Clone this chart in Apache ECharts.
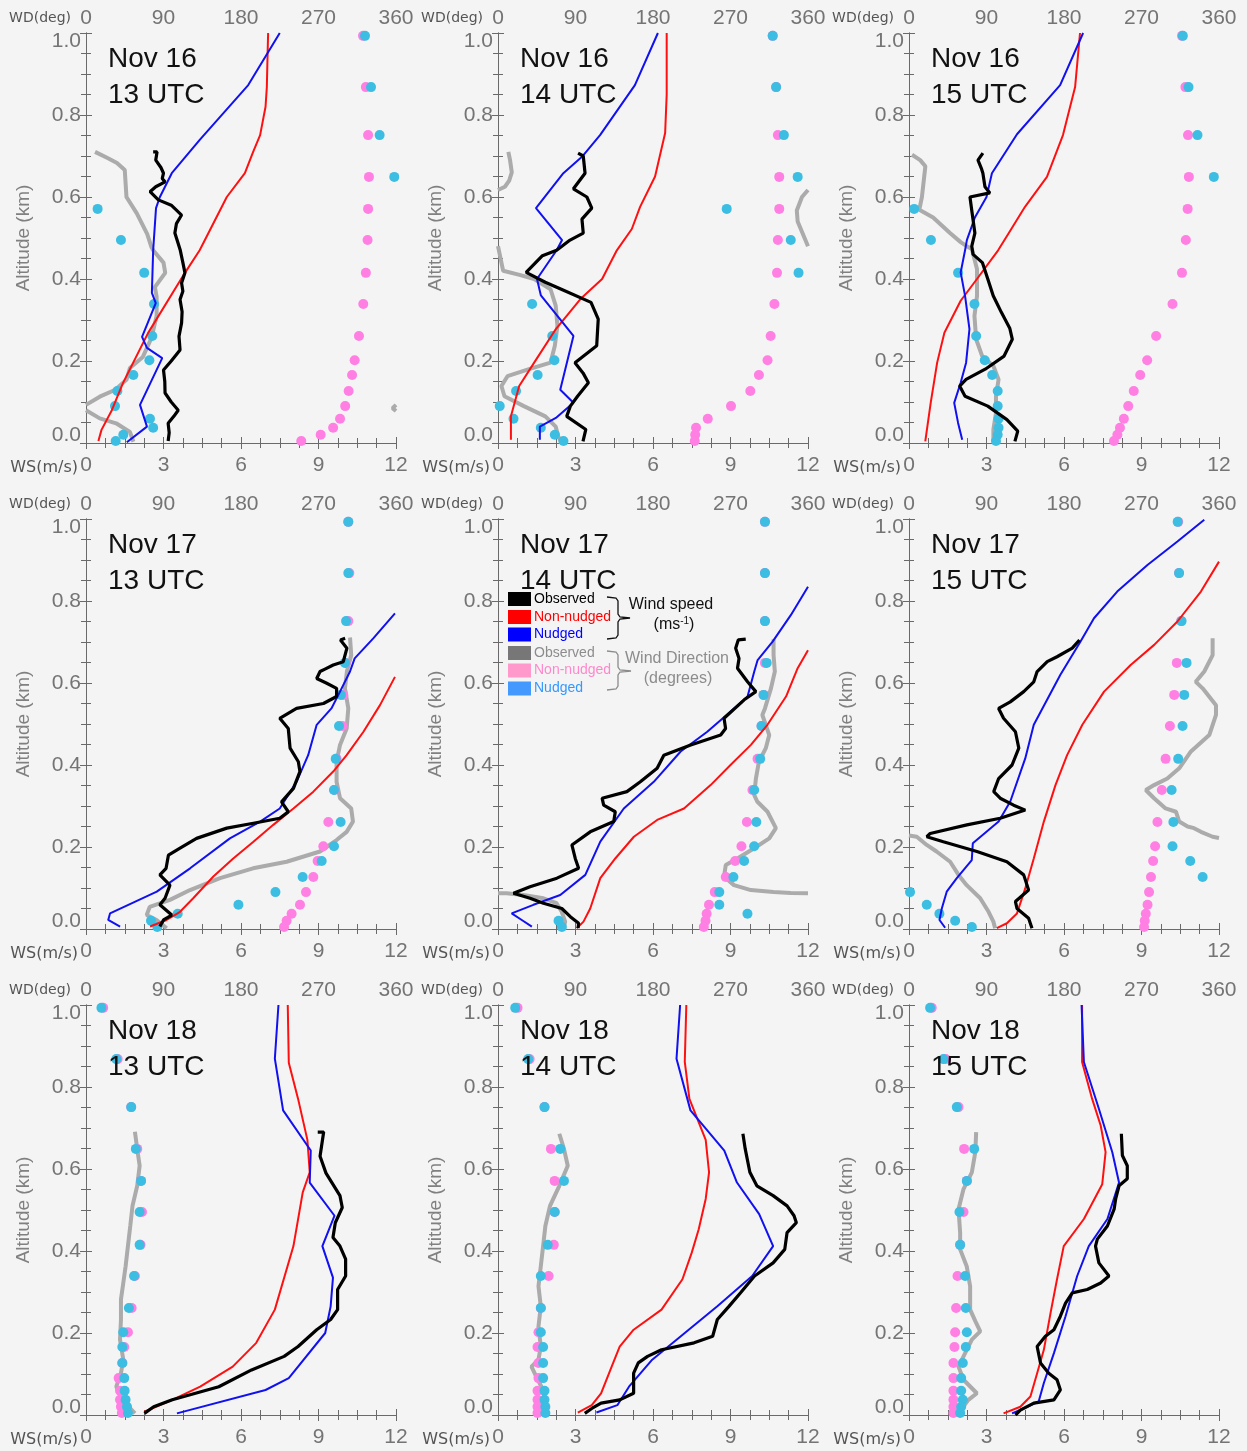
<!DOCTYPE html>
<html><head><meta charset="utf-8">
<script src="https://cdn.jsdelivr.net/npm/echarts@6/dist/echarts.min.js"></script>
<style>html,body{margin:0;padding:0;background:#f4f4f4}#c{width:1247px;height:1451px}</style>
</head><body><div id="c"></div>
<script>
// ---- shared ----
const levels = [0.993,0.868,0.751,0.649,0.571,0.495,0.415,0.339,0.261,0.202,0.166,0.127,0.09,0.059,0.037,0.02,0.005];
const titles = [['Nov 16','13 UTC'],['Nov 16','14 UTC'],['Nov 16','15 UTC'],['Nov 17','13 UTC'],['Nov 17','14 UTC'],['Nov 17','15 UTC'],['Nov 18','13 UTC'],['Nov 18','14 UTC'],['Nov 18','15 UTC']];
const wsTicks = [0,3,6,9,12];
const wdTicks = [0,90,180,270,360];
const altTicks = [0,0.2,0.4,0.6,0.8,1.0];

// ---- panel 1 ----
const p1ObsWS = [[2.6,0.71],[2.75,0.71],[2.7,0.69],[2.9,0.672],[3.0,0.658],[2.95,0.645],[3.06,0.637],[2.7,0.625],[2.48,0.613],[2.8,0.593],[3.3,0.58],[3.7,0.556],[3.5,0.535],[3.44,0.512],[3.55,0.49],[3.65,0.47],[3.75,0.44],[3.83,0.415],[3.7,0.39],[3.75,0.37],[3.64,0.35],[3.72,0.32],[3.7,0.293],[3.6,0.26],[3.64,0.227],[3.3,0.2],[3.0,0.178],[3.05,0.15],[3.06,0.122],[3.3,0.1],[3.57,0.08],[3.4,0.065],[3.18,0.048],[3.22,0.025],[3.18,0.005]];
const p1NonWS = [[0.48,0.005],[0.6,0.032],[1.0,0.08],[1.43,0.146],[2.4,0.268],[3.83,0.415],[4.4,0.47],[5.45,0.6],[6.15,0.658],[6.47,0.71],[6.74,0.751],[6.95,0.82],[7.0,0.868],[7.03,0.95],[7.05,1.0]];
const p1NudWS = [[1.58,0.002],[2.36,0.04],[2.09,0.093],[2.95,0.207],[2.36,0.232],[2.17,0.259],[2.7,0.341],[2.55,0.366],[2.6,0.47],[2.71,0.573],[2.86,0.6],[3.32,0.658],[4.41,0.74],[6.28,0.873],[7.5,1.0]];
const p1ObsWD = [[10.5,0.71],[25,0.695],[36,0.683],[45,0.666],[47,0.6],[59,0.56],[71,0.51],[76,0.478],[78,0.47],[90,0.44],[92,0.415],[80,0.38],[82,0.357],[82,0.31],[76,0.256],[66,0.21],[51,0.183],[47,0.154],[34,0.13],[16,0.113],[0,0.093],null,[360,0.093],[356,0.085],[360,0.078],null,[0,0.08],[16,0.06],[35,0.048],[51,0.027],[55,0.003]];
const p1NonWD = [321.7,325,327.6,328.6,327.6,327,325,322,317,312,309,305,301,295,287,272.5,250];
const p1NudWD = [324,331,341,358,13.5,40.6,67.6,79,77,73.6,55,36.4,33.7,74.3,78,43.3,34.5];

// ---- panel 2 ----
const p2ObsWS = [[3.1,0.707],[3.3,0.7],[3.37,0.658],[2.92,0.62],[3.44,0.6],[3.63,0.573],[3.25,0.546],[3.3,0.512],[2.79,0.495],[2.27,0.47],[1.72,0.457],[1.09,0.416],[1.83,0.392],[2.45,0.375],[3.6,0.343],[3.88,0.302],[3.85,0.27],[3.82,0.237],[2.98,0.196],[3.29,0.171],[3.5,0.147],[3.08,0.114],[2.8,0.09],[2.66,0.065],[3.4,0.033],[3.29,0.004]];
const p2NonWS = [[0.5,0.008],[0.5,0.065],[0.82,0.139],[1.4,0.196],[2.24,0.278],[3.19,0.351],[4.03,0.4],[4.6,0.47],[5.18,0.522],[5.5,0.576],[6.08,0.65],[6.47,0.756],[6.53,0.85],[6.53,1.0]];
const p2NudWS = [[1.62,0.008],[1.62,0.04],[2.24,0.061],[2.92,0.098],[2.41,0.13],[2.92,0.261],[1.66,0.36],[1.51,0.4],[2.27,0.47],[2.48,0.495],[1.47,0.573],[2.53,0.658],[3.25,0.698],[3.95,0.751],[5.3,0.873],[6.19,1.0]];
const p2ObsWD = [[12,0.71],[14,0.69],[16,0.66],[13,0.64],[8,0.625],[0,0.617],null,[360,0.617],[353,0.6],[347,0.567],[348,0.54],[356,0.5],[360,0.48],null,[0,0.48],[2,0.46],[4,0.44],[6,0.42],[25,0.41],[42,0.4],[61,0.375],[67,0.335],[69,0.286],[66,0.237],[61,0.196],[36,0.18],[11,0.163],[4,0.139],[7.5,0.114],[30,0.09],[55,0.065],[67,0.04],[70,0.016],[74,0.0]];
const p2NonWD = [319,323,325,326.6,326.6,325,324,321,316.6,313,303,293,270.6,243.6,230,229,228.5];
const p2NudWD = [319,323,332,348,265.6,340,349,39.6,63,65.5,46,21,2,18,49.7,66,76];

// ---- panel 3 ----
const p3ObsWS = [[2.86,0.707],[2.67,0.69],[2.8,0.67],[2.86,0.658],[2.94,0.625],[3.13,0.61],[2.36,0.6],[2.43,0.567],[2.55,0.512],[2.43,0.48],[2.48,0.46],[2.84,0.44],[3.05,0.4],[3.26,0.359],[3.58,0.318],[3.9,0.28],[4.0,0.253],[3.68,0.212],[2.95,0.18],[2.21,0.155],[1.96,0.139],[2.17,0.114],[3.05,0.09],[3.79,0.057],[4.21,0.029],[4.1,0.004]];
const p3NonWS = [[0.63,0.004],[0.84,0.098],[1.09,0.196],[1.37,0.269],[2.0,0.347],[2.63,0.4],[3.45,0.47],[3.96,0.522],[4.49,0.576],[5.34,0.649],[5.96,0.751],[6.43,0.868],[6.62,1.0]];
const p3NudWS = [[2.06,0.008],[1.9,0.049],[1.75,0.098],[2.0,0.147],[2.21,0.196],[2.34,0.278],[2.17,0.359],[2.0,0.416],[2.17,0.47],[2.24,0.495],[2.55,0.55],[3.0,0.6],[3.21,0.658],[4.18,0.753],[5.85,0.873],[6.74,1.0]];
const p3ObsWD = [[3.5,0.703],[13,0.69],[19,0.675],[15,0.6],[12,0.569],[28,0.55],[47.6,0.512],[60,0.49],[67,0.48],[73,0.473],[79,0.424],[79,0.359],[76,0.31],[78,0.253],[85,0.212],[98,0.188],[104,0.155],[101,0.114],[101,0.073],[98,0.033],[98,0.004]];
const p3NonWD = [317,321,324,325,323.6,321.5,317,306,287,276.6,268.5,261,254.6,249.5,245,242,238];
const p3NudWD = [318,324.6,335,354,6,25.5,57,76,78,88,96.6,103,103,104,104,103,101];

// ---- panel 4 ----
const p4ObsWS = [[10.03,0.709],[9.85,0.705],[10.1,0.685],[9.96,0.652],[9.57,0.644],[9.25,0.634],[9.06,0.628],[8.93,0.611],[9.3,0.6],[9.7,0.587],[9.7,0.567],[9.19,0.55],[8.15,0.538],[7.5,0.514],[7.83,0.489],[7.9,0.441],[8.22,0.408],[8.28,0.384],[8.03,0.343],[7.57,0.31],[7.83,0.286],[7.5,0.27],[6.48,0.258],[5.45,0.246],[4.28,0.221],[3.64,0.197],[3.19,0.18],[3.1,0.148],[2.86,0.132],[3.25,0.107],[3.06,0.075],[2.86,0.059],[3.32,0.034],[3.0,0.022],[2.86,0.006]];
const p4NonWS = [[2.48,0.006],[3.12,0.022],[3.64,0.042],[4.15,0.075],[4.93,0.128],[5.7,0.172],[6.48,0.213],[7.25,0.254],[8.03,0.294],[8.8,0.335],[9.57,0.384],[10.09,0.424],[10.74,0.481],[11.38,0.546],[11.96,0.615]];
const p4NudWS = [[1.32,0.006],[0.86,0.022],[0.93,0.038],[2.74,0.091],[4.03,0.148],[5.57,0.221],[6.74,0.262],[7.5,0.294],[8.15,0.359],[8.6,0.424],[8.93,0.498],[9.5,0.538],[9.77,0.571],[10.22,0.628],[10.4,0.66],[11.12,0.709],[11.96,0.77]];
const p4ObsWD = [[306.6,0.711],[308,0.668],[303,0.628],[300.7,0.587],[304.6,0.538],[302.7,0.489],[295,0.449],[291,0.408],[291,0.359],[295,0.319],[308,0.294],[310,0.262],[302.7,0.237],[291,0.217],[271.7,0.189],[233,0.164],[194,0.148],[155.6,0.124],[120.8,0.095],[97.5,0.071],[74,0.054],[70.5,0.034],[82,0.022],[93.7,0.002]];
const p4NonWD = [304.6,305.8,304.6,301.5,298.8,297.7,291,288.4,281.4,275.6,269,264,255.5,248.5,238.8,233,230];
const p4NudWD = [304.6,304.6,302,300.8,296,293.8,290,288,295.7,288,273.7,251.6,220,177,106.5,75.5,82.8];

// ---- panel 5 ----
const p5ObsWS = [[9.59,0.707],[9.3,0.705],[9.2,0.685],[9.33,0.66],[9.27,0.636],[9.66,0.603],[9.98,0.579],[9.53,0.559],[8.75,0.514],[8.81,0.489],[8.62,0.473],[7.46,0.449],[6.42,0.424],[6.16,0.392],[5.51,0.359],[4.99,0.335],[4.03,0.319],[4.09,0.302],[4.54,0.286],[4.48,0.262],[3.57,0.237],[2.86,0.205],[2.99,0.172],[3.12,0.148],[2.28,0.124],[1.24,0.103],[0.6,0.087],[1.24,0.075],[1.76,0.063],[2.47,0.05],[2.8,0.03],[3.12,0.014],[3.1,0.002]];
const p5NonWS = [[3.05,0.002],[3.31,0.018],[3.57,0.05],[3.96,0.124],[4.54,0.172],[5.26,0.225],[6.16,0.266],[7.2,0.294],[8.23,0.351],[9.0,0.4],[9.79,0.449],[10.43,0.498],[11.15,0.567],[11.6,0.636],[12.0,0.68]];
const p5NudWS = [[1.31,0.006],[0.92,0.022],[0.53,0.038],[1.37,0.059],[2.41,0.083],[3.38,0.132],[3.96,0.213],[4.87,0.294],[6.03,0.359],[7.07,0.433],[8.1,0.481],[9.14,0.538],[9.66,0.567],[9.92,0.628],[10.05,0.656],[10.63,0.701],[11.34,0.766],[12.0,0.835]];
const p5ObsWD = [[320,0.707],[320,0.668],[321.5,0.628],[317,0.587],[310,0.538],[307,0.522],[315,0.473],[311,0.441],[303,0.408],[299.5,0.367],[297.5,0.327],[301,0.311],[313,0.286],[322.7,0.246],[315,0.221],[297.5,0.197],[278,0.172],[264.5,0.156],[262.5,0.128],[274,0.107],[293.6,0.095],[320,0.09],[340,0.088],[360,0.087],null,[0,0.087],[10,0.087],[29.5,0.083],[52.8,0.075],[68,0.063],[74,0.042],[78,0.018],[76,0.002]];
const p5NonWD = [310,310,310,310,308.4,306,301.4,295.5,289,282.7,275.4,264.5,251.7,245,242.3,241,239];
const p5NudWD = [310,310,310,312,308.4,306,304.5,297.5,300,297.5,285.8,273.4,257,257,289.7,70.3,74.2];

// ---- panel 6 ----
const p6ObsWS = [[6.6,0.705],[6.32,0.685],[5.73,0.664],[5.35,0.652],[4.96,0.628],[4.83,0.603],[4.44,0.579],[3.92,0.554],[3.47,0.538],[3.66,0.514],[4.12,0.481],[4.25,0.441],[3.99,0.4],[3.47,0.367],[3.28,0.335],[3.53,0.319],[4.05,0.302],[4.5,0.29],[3.53,0.27],[2.24,0.254],[0.82,0.233],[0.69,0.225],[1.33,0.213],[2.63,0.189],[3.79,0.164],[4.44,0.132],[4.63,0.095],[4.12,0.067],[4.18,0.05],[4.63,0.026],[4.76,0.002]];
const p6NonWS = [[3.4,0.002],[3.79,0.014],[4.18,0.038],[4.5,0.099],[4.83,0.172],[5.22,0.262],[5.67,0.351],[6.12,0.424],[6.71,0.498],[7.55,0.579],[8.58,0.644],[9.49,0.693],[10.39,0.75],[11.3,0.823],[12.0,0.896]];
const p6NudWS = [[1.4,0.003],[1.18,0.022],[1.27,0.05],[1.46,0.091],[1.85,0.124],[2.43,0.168],[2.47,0.209],[3.47,0.262],[3.92,0.311],[4.5,0.416],[4.83,0.498],[5.86,0.62],[6.64,0.701],[7.16,0.758],[8.06,0.823],[9.23,0.888],[10.39,0.945],[11.43,0.998]];
const p6ObsWD = [[352.6,0.709],[352.6,0.668],[342.9,0.628],[333,0.603],[341,0.587],[356.5,0.546],[356.5,0.522],[348.7,0.473],[327.4,0.433],[313.8,0.392],[300,0.367],[284.6,0.351],[275,0.339],[284.6,0.319],[298,0.294],[310,0.286],[313.8,0.262],[323.5,0.25],[331,0.246],[339,0.237],[352.6,0.225],[360,0.222],null,[0,0.228],[9,0.225],[20.6,0.205],[32,0.189],[47.8,0.164],[57.5,0.132],[67,0.107],[82.7,0.075],[92.4,0.042],[98,0.018],[100,0.002]];
const p6NonWD = [312.6,313.6,316,311,308,303,298,293.6,288.5,285.8,283.5,281,278.8,277,275,273.8,273];
const p6NudWD = [312,313.6,316.5,322.3,319.6,317.7,312.6,305,307,306,326.6,341,1.2,20.6,35.3,53.6,73];

// ---- panel 7 ----
const p7ObsWS = [[8.97,0.69],[9.2,0.69],[9.06,0.631],[9.29,0.59],[9.83,0.535],[9.92,0.506],[9.65,0.469],[9.56,0.433],[9.83,0.412],[10.05,0.38],[10.05,0.339],[9.74,0.306],[9.74,0.257],[9.47,0.233],[8.93,0.208],[8.21,0.167],[7.67,0.143],[6.41,0.11],[5.14,0.069],[3.34,0.037],[2.62,0.02],[2.26,0.004]];
const p7NonWS = [[2.26,0.008],[3.34,0.037],[4.42,0.069],[5.68,0.118],[6.59,0.176],[7.31,0.257],[8.03,0.412],[8.39,0.543],[8.66,0.592],[8.57,0.671],[8.21,0.771],[7.85,0.859],[7.81,1.0]];
const p7NudWS = [[3.52,0.004],[6.95,0.061],[7.85,0.09],[9.26,0.2],[9.47,0.265],[9.56,0.335],[9.15,0.412],[9.62,0.486],[8.66,0.567],[8.7,0.645],[7.63,0.743],[7.31,0.869],[7.45,1.0]];
const p7ObsWD = [[56.8,0.691],[59.5,0.649],[62.3,0.608],[59.5,0.559],[54,0.51],[51.4,0.461],[48.7,0.412],[46,0.363],[43.3,0.322],[40.6,0.282],[40.6,0.233],[39.5,0.184],[43.3,0.135],[40.6,0.102],[35.2,0.069],[43.3,0.037],[51.4,0.016],[56.8,0.004]];
const p7NonWD = [20,36.8,52.5,59.5,63.9,65,63.3,56.8,53,48.7,44.4,42.2,37.9,39.5,39.5,40.6,41.7];
const p7NudWD = [17.9,35.2,52.5,57.9,63.9,62.3,62.3,55.8,49.8,43.3,42.2,42.2,44.4,44.9,46,47.6,48.7];

// ---- panel 8 ----
const p8ObsWS = [[9.48,0.686],[9.57,0.649],[9.75,0.592],[10.02,0.559],[10.65,0.535],[11.19,0.51],[11.46,0.486],[11.55,0.469],[11.19,0.445],[11.1,0.404],[10.65,0.371],[9.93,0.339],[9.39,0.298],[8.94,0.265],[8.49,0.233],[8.31,0.192],[7.59,0.176],[6.33,0.159],[5.79,0.143],[5.43,0.127],[5.25,0.102],[5.25,0.053],[4.71,0.037],[3.99,0.029],[3.63,0.016],[3.36,0.004]];
const p8NonWS = [[3.09,0.006],[3.63,0.024],[3.99,0.053],[4.35,0.11],[4.71,0.167],[5.25,0.208],[6.33,0.257],[7.14,0.331],[7.5,0.396],[7.77,0.453],[8.04,0.527],[8.17,0.592],[8.04,0.671],[7.41,0.771],[7.23,0.861],[7.29,1.0]];
const p8NudWS = [[3.81,0.006],[4.62,0.024],[5.07,0.069],[5.97,0.135],[7.23,0.2],[8.49,0.265],[9.84,0.339],[10.65,0.412],[10.11,0.49],[9.25,0.567],[8.76,0.645],[7.45,0.743],[6.91,0.869],[7.05,1.0]];
const p8ObsWD = [[71.2,0.686],[76.6,0.649],[81,0.608],[71.2,0.559],[60.4,0.51],[55,0.461],[52.4,0.412],[49.7,0.363],[47,0.314],[49.7,0.265],[47,0.216],[49.7,0.167],[47,0.135],[38.9,0.118],[44.3,0.094],[52.4,0.061],[55,0.029],[55,0.004]];
const p8NonWD = [22.7,36.7,54,61.5,65.8,65.8,64.8,58.8,49.7,47,45.9,47,47,45.9,45.9,45.9,45.9];
const p8NudWD = [20,35.1,54,72.3,76.6,65.8,57.7,49.7,49.7,49.7,52.4,52.4,52.4,54,54,55,55];

// ---- panel 9 ----
const p9ObsWS = [[8.22,0.686],[8.26,0.633],[8.45,0.608],[8.45,0.576],[8.13,0.559],[8.0,0.527],[7.94,0.502],[7.68,0.461],[7.29,0.429],[7.22,0.412],[7.35,0.371],[7.74,0.339],[7.42,0.322],[6.9,0.306],[6.32,0.298],[6.06,0.273],[5.86,0.241],[5.61,0.208],[5.28,0.192],[4.96,0.167],[5.09,0.127],[5.41,0.102],[5.73,0.086],[5.86,0.061],[5.61,0.037],[4.83,0.029],[4.31,0.012],[4.12,0.0]];
const p9NonWS = [[3.66,0.004],[4.31,0.02],[4.7,0.045],[4.96,0.102],[5.22,0.159],[5.48,0.249],[5.73,0.331],[5.99,0.412],[6.77,0.478],[7.48,0.563],[7.61,0.641],[7.42,0.706],[7.09,0.771],[6.7,0.861],[6.7,1.0]];
const p9NudWS = [[3.99,0.004],[4.57,0.02],[5.02,0.033],[5.22,0.078],[5.61,0.151],[6.06,0.241],[6.51,0.339],[6.96,0.412],[7.68,0.478],[8.13,0.567],[7.87,0.641],[7.35,0.747],[6.77,0.861],[6.68,1.0]];
const p9ObsWD = [[78,0.69],[77,0.641],[73,0.592],[63.3,0.551],[57.5,0.502],[59.4,0.445],[59.4,0.404],[67,0.363],[71,0.314],[71,0.257],[77,0.229],[82.7,0.204],[73,0.184],[65.2,0.151],[57.5,0.118],[63.3,0.086],[78.8,0.053],[69,0.037],[61.4,0.016],[61.4,0.0]];
const p9NonWD = [26.4,42.7,57.5,64,67.2,63.3,59.4,56.3,54.7,53.6,52.8,51.6,51.6,51.6,51.6,51.6,51.6];
const p9NudWD = [24.5,40,55.5,75.7,67.2,58.6,59.4,65.2,66,67.2,66,62.5,60.6,60.6,62.5,60.6,59.4];

const panels = [
  [p1ObsWS,p1NonWS,p1NudWS,p1ObsWD,p1NonWD,p1NudWD],
  [p2ObsWS,p2NonWS,p2NudWS,p2ObsWD,p2NonWD,p2NudWD],
  [p3ObsWS,p3NonWS,p3NudWS,p3ObsWD,p3NonWD,p3NudWD],
  [p4ObsWS,p4NonWS,p4NudWS,p4ObsWD,p4NonWD,p4NudWD],
  [p5ObsWS,p5NonWS,p5NudWS,p5ObsWD,p5NonWD,p5NudWD],
  [p6ObsWS,p6NonWS,p6NudWS,p6ObsWD,p6NonWD,p6NudWD],
  [p7ObsWS,p7NonWS,p7NudWS,p7ObsWD,p7NonWD,p7NudWD],
  [p8ObsWS,p8NonWS,p8NudWS,p8ObsWD,p8NonWD,p8NudWD],
  [p9ObsWS,p9NonWS,p9NudWS,p9ObsWD,p9NonWD,p9NudWD]
];

// ---- layout / style ----
const colLeft = [86, 498, 909];
const rowTop = [33, 519, 1005];
const PW = 310, PH = 410;
const FONT = 'Liberation Sans, Arial, sans-serif';
const AXC = '#747474';
const C = {obs:'#000000', non:'#ff1010', nud:'#1010f0', obsWD:'#ababab', nonWD:'#ff7fe3', nudWD:'#3cbde2'};

function levelPairs(vals){ return levels.map((a,k)=> vals[k]==null ? null : [vals[k], a]).filter(p=>p); }
function segments(arr){ const s=[[]]; arr.forEach(p=>{ if(p===null) s.push([]); else s[s.length-1].push(p); }); return s.filter(x=>x.length); }

const grids=[], xAxes=[], yAxes=[], series=[], graphics=[];
const tickCommon = {
  axisLine:{show:true, lineStyle:{color:'#6a6a6a', width:1}},
  axisTick:{show:true, inside:true, length:6, lineStyle:{color:'#6a6a6a'}},
  minorTick:{show:true, splitNumber:4, length:5, lineStyle:{color:'#6a6a6a'}},
  splitLine:{show:false}
};
panels.forEach((P,i)=>{
  const r=Math.floor(i/3), c=i%3, L=colLeft[c], T=rowTop[r];
  grids.push({left:L, top:T, width:PW, height:PH, show:false});
  xAxes.push(Object.assign({type:'value', gridIndex:i, position:'bottom', min:wsTicks[0], max:wsTicks[wsTicks.length-1], interval:3,
    axisLabel:{color:AXC, fontSize:21, fontFamily:FONT, margin:12}}, tickCommon));
  xAxes.push(Object.assign({type:'value', gridIndex:i, position:'top', min:wdTicks[0], max:wdTicks[wdTicks.length-1], interval:90,
    axisLabel:{color:AXC, fontSize:21, fontFamily:FONT, margin:4}}, tickCommon));
  yAxes.push(Object.assign({type:'value', gridIndex:i, position:'left', min:altTicks[0], max:altTicks[altTicks.length-1], interval:0.2,
    name:'Altitude (km)', nameLocation:'middle', nameGap:53, nameTextStyle:{color:'#808080', fontSize:19, fontFamily:FONT},
    axisLabel:{color:AXC, fontSize:21, fontFamily:FONT, margin:5, lineHeight:16, formatter:v=>v.toFixed(1),
      verticalAlignMinLabel:'bottom', verticalAlignMaxLabel:'top'}}, tickCommon));
  yAxes.push(Object.assign({type:'value', gridIndex:i, position:'right', min:0, max:1, interval:0.2, axisLabel:{show:false}}, tickCommon));
  const bx=2*i, tx=2*i+1, ly=2*i;
  segments(P[3]).forEach(seg=>series.push({type:'line', xAxisIndex:tx, yAxisIndex:ly, data:seg, showSymbol:false, symbol:'none',
    lineStyle:{color:C.obsWD, width:4}, z:2, silent:true}));
  series.push({type:'scatter', xAxisIndex:tx, yAxisIndex:ly, data:levelPairs(P[4]), symbolSize:10, itemStyle:{color:C.nonWD, opacity:1}, z:3, silent:true});
  series.push({type:'scatter', xAxisIndex:tx, yAxisIndex:ly, data:levelPairs(P[5]), symbolSize:10, itemStyle:{color:C.nudWD, opacity:1}, z:4, silent:true});
  series.push({type:'line', xAxisIndex:bx, yAxisIndex:ly, data:P[1], symbol:'none', lineStyle:{color:C.non, width:2}, z:5, silent:true});
  series.push({type:'line', xAxisIndex:bx, yAxisIndex:ly, data:P[2], symbol:'none', lineStyle:{color:C.nud, width:2}, z:5, silent:true});
  series.push({type:'line', xAxisIndex:bx, yAxisIndex:ly, data:P[0], symbol:'none', lineStyle:{color:C.obs, width:3.2}, z:6, silent:true});
  graphics.push({type:'text', left:L+22, top:T+8, z:20, style:{text:titles[i][0]+'\n'+titles[i][1], fill:'#111', font:'28px '+FONT, lineHeight:36}});
  graphics.push({type:'text', x:L-15, y:T-15, z:20, style:{text:'WD(deg)', fill:'#555', font:'14px DejaVu Sans', align:'right', verticalAlign:'middle'}});
  graphics.push({type:'text', x:L-8, y:T+PH+25, z:20, style:{text:'WS(m/s)', fill:'#555', font:'16px DejaVu Sans', align:'right', verticalAlign:'middle'}});
});

// ---- legend (inside panel 5) ----
const legItems = [
  {label:'Observed', sw:'#000000', tc:'#000000'},
  {label:'Non-nudged', sw:'#ff0000', tc:'#ff0000'},
  {label:'Nudged', sw:'#0000ff', tc:'#0000ff'},
  {label:'Observed', sw:'#777777', tc:'#8c8c8c'},
  {label:'Non-nudged', sw:'#ff99cc', tc:'#ff88cc'},
  {label:'Nudged', sw:'#4499ff', tc:'#3399ff'}
];
const LX = 508, LY = [599, 617, 634.5, 653, 670.5, 688.5];
legItems.forEach((it,k)=>{
  graphics.push({type:'rect', z:30, shape:{x:LX, y:LY[k]-7, width:23, height:14}, style:{fill:it.sw}});
  graphics.push({type:'text', z:30, x:LX+26, y:LY[k], style:{text:it.label, fill:it.tc, font:'14px '+FONT, verticalAlign:'middle'}});
});
graphics.push({type:'polyline', z:30, shape:{points:[[607,597],[616,598],[618,601],[618,614],[620,617],[630,618],[620,619],[618,622],[618,635],[616,638],[607,639]]}, style:{stroke:'#111', lineWidth:1.3, fill:null}});
graphics.push({type:'polyline', z:30, shape:{points:[[607,651],[616,652],[618,655],[618,667],[620,670],[631,671],[620,672],[618,675],[618,686],[616,689],[607,690]]}, style:{stroke:'#8c8c8c', lineWidth:1.3, fill:null}});
graphics.push({type:'text', z:30, x:671, y:605, style:{text:'Wind speed', fill:'#111', font:'16px '+FONT, align:'center', verticalAlign:'middle'}});
graphics.push({type:'text', z:30, x:674, y:625, style:{text:'(ms{s|-1})', fill:'#111', font:'16px '+FONT, align:'center', verticalAlign:'middle', rich:{s:{fontSize:10, fill:'#111', verticalAlign:'top', padding:[0,0,8,0]}}}});
graphics.push({type:'text', z:30, x:677, y:659, style:{text:'Wind Direction', fill:'#8c8c8c', font:'16px '+FONT, align:'center', verticalAlign:'middle'}});
graphics.push({type:'text', z:30, x:678, y:679, style:{text:'(degrees)', fill:'#8c8c8c', font:'16px '+FONT, align:'center', verticalAlign:'middle'}});

const chart = echarts.init(document.getElementById('c'), null, {renderer:'canvas'});
chart.setOption({
  backgroundColor:'#f4f4f4', animation:false,
  grid:grids, xAxis:xAxes, yAxis:yAxes, series:series, graphic:graphics
});
</script></body></html>
